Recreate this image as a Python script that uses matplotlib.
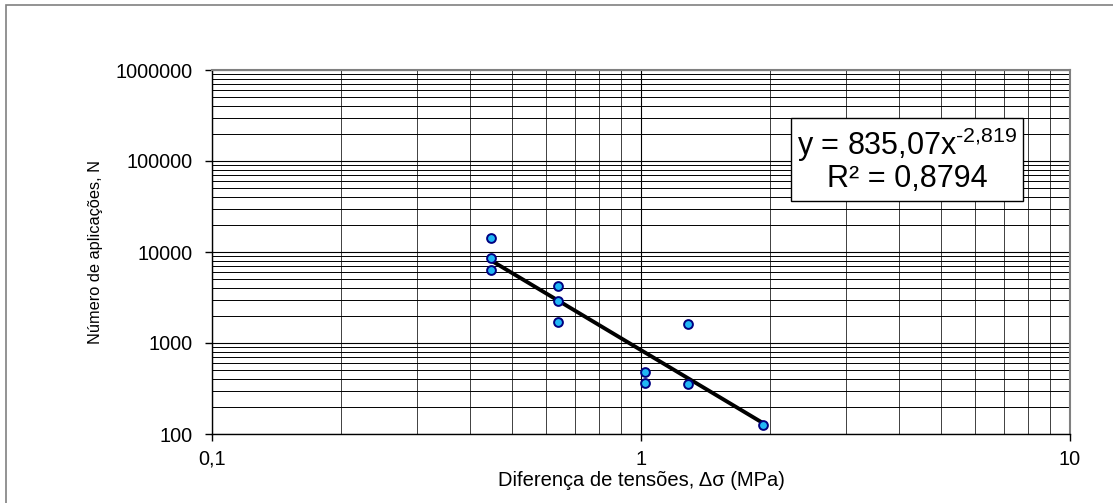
import numpy as np
import matplotlib.pyplot as plt
from matplotlib.ticker import FixedLocator, LogLocator, NullFormatter
from matplotlib.patches import Rectangle

plt.rcParams["font.family"] = ["Liberation Sans", "DejaVu Sans"]
plt.rcParams["mathtext.fontset"] = "custom"
plt.rcParams["mathtext.rm"] = "Liberation Sans"
plt.rcParams["mathtext.it"] = "Liberation Sans:italic"

# data
delta_sigma = [0.447, 0.447, 0.447, 0.641, 0.641, 0.641, 1.02, 1.02, 1.29, 1.29, 1.92]
n_aplic = [14100, 8700, 6400, 4270, 2920, 1710, 482, 365, 1630, 356, 126]

# power-law trend from the chart label
coef_a = 835.07
coef_b = -2.819
eq_text = "y = 835,07x$^{\\text{-2,819}}$"
r2_text = "R² = 0,8794"

x_ticks = [0.1, 1, 10]
x_ticklabels = ["0,1", "1", "10"]
y_ticks = [100, 1000, 10000, 100000, 1000000]
y_ticklabels = ["100", "1000", "10000", "100000", "1000000"]

fig = plt.figure(figsize=(11.13, 5.03), dpi=100)
W, H = 1113, 503
ax = fig.add_axes([212 / W, 1 - 434 / H, (1070 - 212) / W, (434 - 70) / H])

# outer chart-area frame (cropped at right and bottom)
fig.add_artist(Rectangle((6 / W, -0.1), 1.2, 1 - 5 / H + 0.1, transform=fig.transFigure,
                         fill=False, edgecolor="#808080", lw=1.2))

ax.set_xscale("log")
ax.set_yscale("log")
ax.set_xlim(0.1, 10)
ax.set_ylim(100, 1000000)

ax.xaxis.set_major_locator(FixedLocator(x_ticks))
ax.set_xticklabels(x_ticklabels)
ax.yaxis.set_major_locator(FixedLocator(y_ticks))
ax.set_yticklabels(y_ticklabels)
ax.xaxis.set_minor_locator(LogLocator(base=10, subs=np.arange(2, 10)))
ax.yaxis.set_minor_locator(LogLocator(base=10, subs=np.arange(2, 10)))
ax.xaxis.set_minor_formatter(NullFormatter())
ax.yaxis.set_minor_formatter(NullFormatter())

ax.grid(True, which="major", axis="both", color="#000000", lw=0.8)
ax.grid(True, which="minor", axis="y", color="#000000", lw=0.7)
ax.grid(True, which="minor", axis="x", color="#404040", lw=0.7)
ax.set_axisbelow(True)

ax.tick_params(axis="both", which="major", direction="out", length=5, width=1,
               labelsize=14.3, color="#000000")
ax.tick_params(axis="both", which="minor", length=0)
ax.tick_params(axis="x", pad=6.5)
ax.tick_params(axis="y", pad=9)

for side in ["left", "bottom"]:
    ax.spines[side].set_color("#000000")
    ax.spines[side].set_linewidth(1)
for side in ["right", "top"]:
    ax.spines[side].set_color("#808080")
    ax.spines[side].set_linewidth(1.5)

# trend line across data range
xs = np.array([min(delta_sigma), max(delta_sigma)])
ax.plot(xs, coef_a * xs ** coef_b, color="black", lw=2.8, zorder=3)

ax.scatter(delta_sigma, n_aplic, s=40, facecolor="#21B7F5", edgecolor="#000080",
           linewidths=1.4, zorder=4)

ax.set_xlabel("Diferença de tensões, Δσ (MPa)", fontsize=14.5, labelpad=1.5)
ax.set_ylabel("Número de aplicações, N", fontsize=11.8, labelpad=9)

ax.text(0.810, 0.752, eq_text + "\n" + r2_text, transform=ax.transAxes,
        ha="center", va="center", fontsize=22, linespacing=1.0, zorder=6,
        bbox=dict(boxstyle="square,pad=0.2", facecolor="white", edgecolor="black", lw=1))

fig.savefig("out.png", dpi=100)
